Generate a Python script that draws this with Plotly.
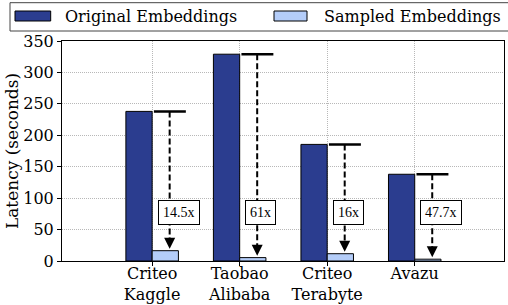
import plotly.graph_objects as go

categories = ["Criteo<br>Kaggle", "Taobao<br>Alibaba", "Criteo<br>Terabyte", "Avazu"]
original = [238, 329, 185.5, 138]
sampled = [16.4, 5.4, 11.6, 2.9]
speedup_labels = ["14.5x", "61x", "16x", "47.7x"]
series_names = ["Original Embeddings", "Sampled Embeddings"]
y_ticks = [0, 50, 100, 150, 200, 250, 300, 350]

DARK = "#2b3d8f"
LIGHT = "#b4cdf9"
SERIF = "DejaVu Serif"
TIMES = "Liberation Serif"
GRID = "#b8b8b8"

pos = list(range(len(categories)))

fig = go.Figure()
fig.add_bar(x=pos, y=original, name=series_names[0], marker=dict(color=DARK, line=dict(color="black", width=1)))
fig.add_bar(x=pos, y=sampled, name=series_names[1], marker=dict(color=LIGHT, line=dict(color="black", width=1)))

# caps
cx, cy = [], []
for p, o in zip(pos, original):
    cx += [p + 0.02, p + 0.385, None]
    cy += [o, o, None]
fig.add_scatter(x=cx, y=cy, mode="lines", line=dict(color="black", width=2.5), hoverinfo="skip")

# dashed arrows
ax_, ay_ = [], []
for p, o, s in zip(pos, original, sampled):
    ax_ += [p + 0.2, p + 0.2, None]
    ay_ += [o, s + 8, None]
fig.add_scatter(x=ax_, y=ay_, mode="lines", line=dict(color="black", width=2, dash="6px,3px"), hoverinfo="skip")
fig.add_scatter(x=[p + 0.2 for p in pos], y=[s + 3 for s in sampled], mode="markers",
                marker=dict(symbol="arrow-down", size=11, color="black", line=dict(width=0)), hoverinfo="skip")

for p, lab in zip(pos, speedup_labels):
    fig.add_annotation(x=p + 0.2, y=77, text=lab, showarrow=False, xanchor="left", yanchor="middle",
                       xshift=-12, bgcolor="white", bordercolor="black", borderwidth=1, borderpad=4,
                       font=dict(family=TIMES, size=14, color="black"))

# custom legend
L, T, W, H = 62, 41, 442, 220
def px(x):
    return (x - L) / W
def py(y):
    return (T + H - y) / H

fig.add_shape(type="rect", xref="paper", yref="paper", x0=px(10), x1=px(515), y0=py(31), y1=py(2.7),
              line=dict(color="#444444", width=1), fillcolor="white", layer="above")
for name, col, sx0, sx1, tx in [(series_names[0], DARK, 15, 50.7, 63), (series_names[1], LIGHT, 274, 307, 322)]:
    fig.add_shape(type="rect", xref="paper", yref="paper", x0=px(sx0), x1=px(sx1), y0=py(21), y1=py(11),
                  line=dict(color="black", width=1), fillcolor=col, layer="above")
    fig.add_annotation(xref="paper", yref="paper", x=px(tx), y=py(16.5), text=name, showarrow=False,
                       xanchor="left", yanchor="middle", font=dict(family=SERIF, size=16, color="black"))

fig.update_layout(
    width=508, height=305,
    margin=dict(l=L, r=508 - L - W, t=T, b=305 - T - H, autoexpand=False),
    plot_bgcolor="white", paper_bgcolor="white",
    barmode="group", bargap=0.4, bargroupgap=0,
    showlegend=False,
    font=dict(family=SERIF, size=16, color="black"),
)
fig.update_xaxes(range=[-1.03, 4.02], tickvals=pos, ticktext=categories, showline=True, mirror=True,
                 linecolor="black", linewidth=1, ticks="outside", ticklen=4, tickcolor="black",
                 showgrid=True, gridcolor=GRID, griddash="1px,1px", gridwidth=1, zeroline=False,
                 automargin=False, ticklabelstandoff=-6)
fig.update_yaxes(range=[0, 350], tickvals=y_ticks, showline=True, mirror=True,
                 linecolor="black", linewidth=1, ticks="outside", ticklen=4, tickcolor="black",
                 showgrid=True, gridcolor=GRID, griddash="1px,1px", gridwidth=1, zeroline=False,
                 automargin=False,
                 title=dict(text="Latency (seconds)", font=dict(size=17, family=SERIF), standoff=0))

fig.write_html("out.html", config={"displayModeBar": False},
               post_script="document.body.style.margin='0';")
